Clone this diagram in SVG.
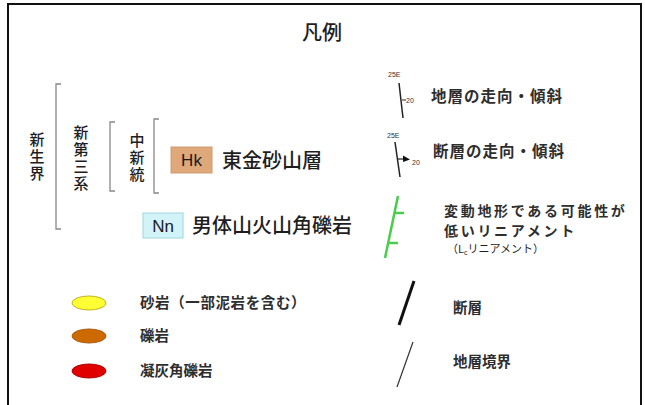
<svg xmlns="http://www.w3.org/2000/svg" width="645" height="405" viewBox="0 0 645 405">
<style>
.t{font-family:"Liberation Sans","Noto Sans CJK JP",sans-serif;fill:#1a1a1a}
.j{font-family:"Noto Sans CJK JP",sans-serif;fill:#1e1e1e}
.b{font-weight:bold;fill:#2e2e2e}
.v{writing-mode:vertical-rl;text-orientation:upright;font-size:15px;letter-spacing:2px;font-weight:500}
.br{fill:none;stroke:#888;stroke-width:1.3}
.sm{font-family:"Liberation Sans",sans-serif;font-size:7px;fill:#333}
</style>
<rect width="645" height="405" fill="#fff"/>
<path d="M8,410 V4 H641 V410" fill="none" stroke="#111" stroke-width="2"/>
<g id="title"><text class="j" x="322" y="40" font-size="20" font-weight="500" text-anchor="middle">凡例</text></g>
<g id="connectors">
<path class="br" d="M61,84 H56 V229 H61"/>
<path class="br" d="M115,122 H110 V191 H115"/>
<path class="br" d="M159,119 H154 V193 H159"/>
</g>
<g id="shinseikai"><text class="j v" x="37" y="132">新生界</text></g>
<g id="shindaisankei"><text class="j v" x="81" y="125">新第三系</text></g>
<g id="chushinto"><text class="j v" x="137" y="133">中新統</text></g>
<g id="hk"><rect x="171" y="147" width="41" height="26" fill="#dfa87a" stroke="#d09a6e"/><text class="t" x="191.5" y="166" font-size="17" text-anchor="middle">Hk</text><text class="j" x="222" y="168" font-size="20" font-weight="500">東金砂山層</text></g>
<g id="nn"><rect x="143" y="213" width="40" height="25" fill="#d2f3f8" stroke="#9fd6e0"/><text class="t" x="163" y="232" font-size="17" text-anchor="middle">Nn</text><text class="j" x="192" y="233" font-size="20" font-weight="500">男体山火山角礫岩</text></g>
<g id="strike-dip"><text class="sm" x="388" y="77">25E</text><line x1="399" y1="83" x2="403" y2="118" stroke="#222" stroke-width="1.5"/><line x1="402" y1="100" x2="406" y2="100" stroke="#222" stroke-width="1"/><text class="sm" x="406" y="103">20</text><text class="j b" x="431" y="102" font-size="15.5" letter-spacing="1">地層の走向・傾斜</text></g>
<g id="fault-strike-dip"><text class="sm" x="387" y="138">25E</text><line x1="395" y1="142" x2="400" y2="177" stroke="#222" stroke-width="1.5"/><line x1="398" y1="159" x2="405" y2="159" stroke="#222" stroke-width="1.2"/><path d="M403,155.5 L410,159.5 L403,162 Z" fill="#111"/><text class="sm" x="412" y="165">20</text><text class="j b" x="433" y="157" font-size="15.5" letter-spacing="1">断層の走向・傾斜</text></g>
<g id="lineament"><line x1="398" y1="196" x2="385" y2="258" stroke="#4ccc4c" stroke-width="2.5"/><line x1="394" y1="213" x2="404" y2="213" stroke="#4ccc4c" stroke-width="2.5"/><line x1="388" y1="243" x2="398" y2="243" stroke="#4ccc4c" stroke-width="2.5"/><text class="j b" x="444" y="216" font-size="14" letter-spacing="2.7">変動地形である可能性が</text><text class="j b" x="444" y="236" font-size="14" letter-spacing="2.7">低いリニアメント</text><text class="j" x="447" y="253" font-size="11">（L<tspan font-size="7" dy="2">c</tspan><tspan dy="-2">リニアメント）</tspan></text></g>
<g id="sandstone"><ellipse cx="89" cy="303" rx="17" ry="7" fill="#ffff33" stroke="#c8b020" stroke-width="1"/><text class="j b" x="140" y="308" font-size="14.5" letter-spacing="0.6">砂岩（一部泥岩を含む）</text></g>
<g id="conglomerate"><ellipse cx="89" cy="336" rx="17" ry="7" fill="#cc6a00" stroke="#b05a10" stroke-width="1"/><text class="j b" x="140" y="341" font-size="14.5">礫岩</text></g>
<g id="tuff-breccia"><ellipse cx="89" cy="371" rx="17" ry="7" fill="#e00000" stroke="#b00000" stroke-width="1"/><text class="j b" x="140" y="376" font-size="14.5">凝灰角礫岩</text></g>
<g id="fault"><line x1="414" y1="281" x2="399" y2="325" stroke="#111" stroke-width="3"/><text class="j b" x="453" y="313" font-size="14.5">断層</text></g>
<g id="boundary"><line x1="413" y1="342" x2="397" y2="387" stroke="#333" stroke-width="1.2"/><text class="j b" x="453" y="367" font-size="14.5">地層境界</text></g>
</svg>
